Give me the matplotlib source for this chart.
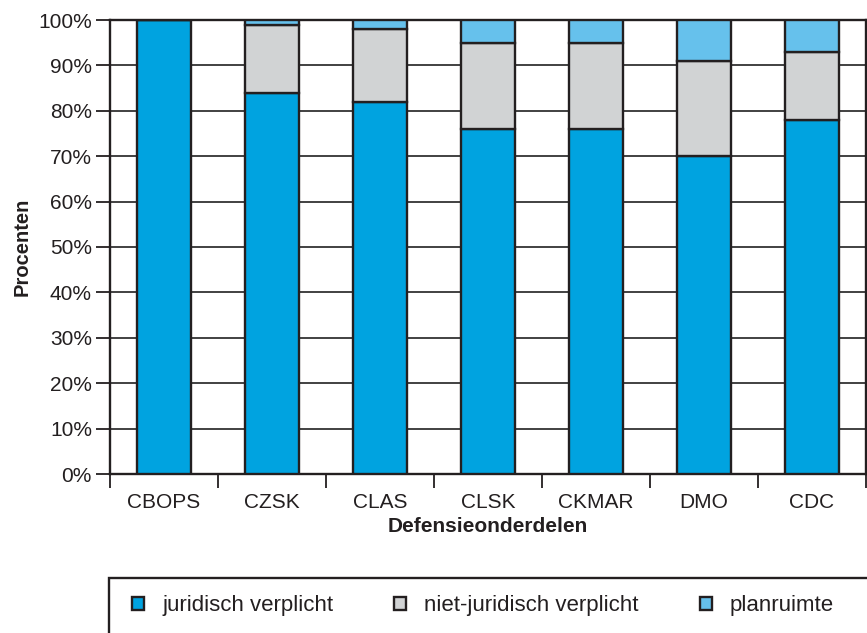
import numpy as np
import matplotlib
matplotlib.use("Agg")
import matplotlib.pyplot as plt
from matplotlib.patches import Rectangle

plt.rcParams["font.family"] = ["Liberation Sans", "DejaVu Sans"]

CATEGORIES = ["CBOPS", "CZSK", "CLAS", "CLSK", "CKMAR", "DMO", "CDC"]
JURIDISCH = [100, 84, 82, 76, 76, 70, 78]
NIET_JURIDISCH = [0, 15, 16, 19, 19, 21, 15]
PLANRUIMTE = [0, 1, 2, 5, 5, 9, 7]
SERIES = ["juridisch verplicht", "niet-juridisch verplicht", "planruimte"]
COLORS = ["#00a3e0", "#d1d3d4", "#66c1ec"]
INK = "#231f20"

fig = plt.figure(figsize=(8.67, 6.33), dpi=100)
ax = fig.add_axes([110 / 867, 1 - 474 / 633, 756 / 867, 454 / 633])

x = np.arange(len(CATEGORIES))
bottom = np.zeros(len(CATEGORIES))
handles = []
for vals, col, lab in zip([JURIDISCH, NIET_JURIDISCH, PLANRUIMTE], COLORS, SERIES):
    vals = np.array(vals, dtype=float)
    b = ax.bar(x, vals, width=0.5, bottom=bottom, color=col, edgecolor=INK,
               linewidth=1.7, zorder=3, label=lab)
    handles.append(b)
    bottom += vals

ax.set_xlim(-0.5, len(CATEGORIES) - 0.5)
ax.set_ylim(0, 100)
ax.set_yticks(np.arange(0, 101, 10))
ax.set_yticklabels([f"{v}%" for v in range(0, 101, 10)], fontsize=15, color=INK)
ax.yaxis.grid(True, color="#333333", linewidth=1.3, zorder=0)
ax.set_axisbelow(True)

ax.set_xticks(x)
ax.set_xticklabels(CATEGORIES, fontsize=15, color=INK)
ax.set_xticks(np.arange(-0.5, len(CATEGORIES), 1.0), minor=True)
ax.tick_params(axis="x", which="major", length=0, pad=14)
ax.tick_params(axis="x", which="minor", length=10, width=1.3, color=INK)
ax.tick_params(axis="y", length=10, width=1.3, color=INK, pad=3)

for s in ax.spines.values():
    s.set_color(INK)
    s.set_linewidth(1.7)

ax.set_ylabel("Procenten", fontsize=14.5, fontweight="bold", color=INK, labelpad=5)
ax.set_xlabel("Defensieonderdelen", fontsize=15, fontweight="bold", color=INK, labelpad=3)

# legend box, runs past the right and bottom edges as in the source
fig.patches.append(Rectangle((109 / 867, -0.2), 1.0, 0.2 + (633 - 578) / 633,
                             transform=fig.transFigure, fill=False,
                             edgecolor=INK, linewidth=1.7))
fig.legend(handles=handles, labels=SERIES, loc="center left",
           bbox_to_anchor=(112 / 867, 1 - 606 / 633), ncol=3, frameon=False,
           fontsize=16, handlelength=0.55, handleheight=0.55, handletextpad=0.8,
           columnspacing=2.75, labelcolor=INK)

fig.savefig("out.png", dpi=100)
